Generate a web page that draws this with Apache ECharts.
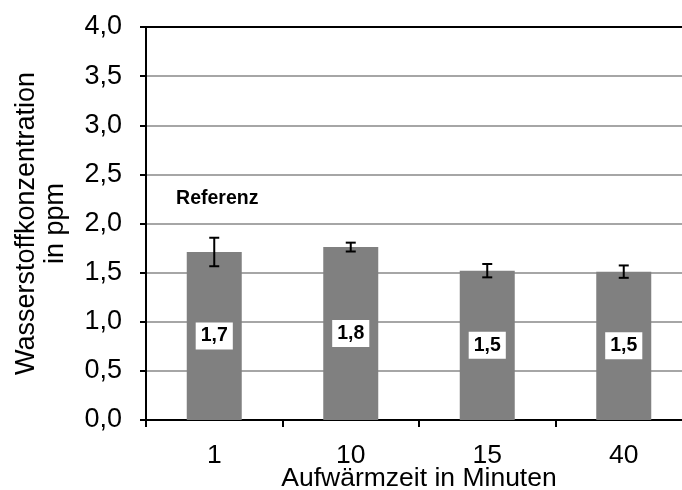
<!DOCTYPE html>
<html>
<head>
<meta charset="utf-8">
<script src="https://cdn.jsdelivr.net/npm/echarts@6/dist/echarts.min.js"></script>
<style>
  html, body { margin: 0; padding: 0; background: #fff; }
  #chart { width: 682px; height: 490px; }
</style>
</head>
<body>
<div id="chart"></div>
<script>
// Warm-up time categories (minutes)
const categories = ['1', '10', '15', '40'];
// Mean hydrogen concentration in ppm
const meanValues = [1.71, 1.76, 1.52, 1.51];
// Standard deviation (symmetric error bars)
const errValues = [0.145, 0.045, 0.068, 0.063];
// Y-axis ticks
const yMin = 0, yMax = 4, yStep = 0.5;

const FONT = '"Liberation Sans", Arial, sans-serif';
const fmt = v => v.toFixed(1).replace('.', ',');

const chart = echarts.init(document.getElementById('chart'), null, { renderer: 'canvas' });

const errorData = categories.map((c, i) => [i, meanValues[i] - errValues[i], meanValues[i] + errValues[i]]);

// gridline colours: grey everywhere, black frame line at the top
const splitColors = [];
for (let v = yMin; v <= yMax + 1e-9; v += yStep) splitColors.push(v >= yMax - 1e-9 ? '#000' : '#a6a6a6');

chart.setOption({
  animation: false,
  grid: { left: 146, top: 27, width: 546, height: 393, outerBoundsMode: 'none', containLabel: false },
  xAxis: {
    type: 'category',
    data: categories,
    name: 'Aufwärmzeit in Minuten',
    nameLocation: 'middle',
    nameGap: 45,
    nameMoveOverlap: false,
    nameTextStyle: { fontFamily: FONT, fontSize: 26.5, color: '#000', lineHeight: 27 },
    axisLine: { lineStyle: { color: '#000', width: 2 } },
    axisTick: { show: true, length: 7, lineStyle: { color: '#000', width: 2 } },
    axisLabel: { fontFamily: FONT, fontSize: 26.5, color: '#000', margin: 22 },
    splitLine: { show: false }
  },
  yAxis: {
    type: 'value',
    min: yMin, max: yMax, interval: yStep,
    name: 'Wasserstoffkonzentration\nin ppm',
    nameLocation: 'middle',
    nameGap: 76,
    nameMoveOverlap: false,
    nameTextStyle: { fontFamily: FONT, fontSize: 27, color: '#000', lineHeight: 29 },
    axisLine: { show: true, lineStyle: { color: '#000', width: 2 } },
    axisTick: { show: true, length: 6, lineStyle: { color: '#000', width: 2 } },
    axisLabel: { fontFamily: FONT, fontSize: 27, color: '#000', margin: 24, formatter: v => fmt(v) },
    splitLine: { show: true, lineStyle: { color: splitColors, width: 2 } }
  },
  series: [
    {
      type: 'bar',
      data: meanValues,
      barWidth: 55,
      itemStyle: { color: '#808080' },
      label: {
        show: true,
        position: 'inside',
        formatter: p => fmt(p.value),
        fontFamily: FONT,
        fontSize: 19.5,
        fontWeight: 'bold',
        color: '#000',
        backgroundColor: '#fff',
        padding: [4, 5, 3, 5]
      },
      markPoint: {
        symbol: 'circle',
        symbolSize: 0,
        data: [{ coord: [0, 2.25], value: 'Referenz' }],
        label: {
          show: true,
          position: 'inside',
          offset: [3, 0],
          formatter: 'Referenz',
          fontFamily: FONT,
          fontSize: 19.5,
          fontWeight: 'bold',
          color: '#000'
        }
      },
      z: 2
    },
    {
      type: 'custom',
      data: errorData,
      z: 5,
      renderItem: function (params, api) {
        const x = api.value(0);
        const lo = api.coord([x, api.value(1)]);
        const hi = api.coord([x, api.value(2)]);
        const half = 5;
        const style = { stroke: '#000', lineWidth: 2 };
        return {
          type: 'group',
          children: [
            { type: 'line', shape: { x1: lo[0], y1: lo[1], x2: hi[0], y2: hi[1] }, style },
            { type: 'line', shape: { x1: hi[0] - half, y1: hi[1], x2: hi[0] + half, y2: hi[1] }, style },
            { type: 'line', shape: { x1: lo[0] - half, y1: lo[1], x2: lo[0] + half, y2: lo[1] }, style }
          ]
        };
      }
    }
  ]
});
</script>
</body>
</html>
